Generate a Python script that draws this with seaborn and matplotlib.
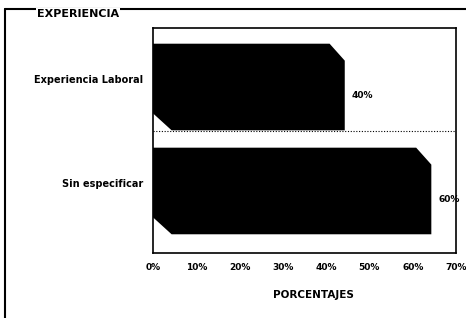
import seaborn as sns
import matplotlib.pyplot as plt
import pandas as pd
from matplotlib.patches import Polygon
from matplotlib.lines import Line2D

categorias = ["Experiencia Laboral", "Sin especificar"]
porcentajes = [40, 60]
etiquetas = ["40%", "60%"]
ticks_x = [0, 10, 20, 30, 40, 50, 60, 70]
ticks_x_lab = ["0%", "10%", "20%", "30%", "40%", "50%", "60%", "70%"]

# profundidad del efecto 3D (en unidades de datos)
prof_x = 4.3
prof_y = 0.163

sns.set_style("white")
plt.rcParams['font.family'] = ['DejaVu Sans']
plt.rcParams['text.color'] = 'black'
plt.rcParams['axes.labelcolor'] = 'black'

df = pd.DataFrame({'experiencia': categorias, 'pct': porcentajes})

fig = plt.figure(figsize=(4.66, 3.18), dpi=100)
ax = fig.add_axes([153 / 466, 1 - 253 / 318, 303 / 466, 225 / 318])

sns.barplot(data=df, x='pct', y='experiencia', orient='h', color='black',
            saturation=1, width=0.67, ax=ax)

# barras con profundidad
for patch, lab in zip(ax.patches, etiquetas):
    x0, y0 = patch.get_x(), patch.get_y()
    w, h = patch.get_width(), patch.get_height()
    pts = [(x0, y0), (x0 + w + 0.8, y0), (x0 + w + prof_x, y0 + prof_y),
           (x0 + w + prof_x, y0 + h + prof_y), (x0 + prof_x, y0 + h + prof_y),
           (x0, y0 + h)]
    ax.add_patch(Polygon(pts, closed=True, facecolor='black',
                         edgecolor='none', zorder=3))
    ax.text(x0 + w + prof_x + 1.6, y0 + prof_y + h / 2, lab, color='black',
            fontsize=6.5, fontweight='bold', va='center', ha='left')

ax.axhline(0.5, ls=(0, (1, 1.5)), color='black', lw=0.8, zorder=1)

ax.set_xlim(0, 70)
ax.set_ylim(1.678, -0.486)
ax.set_xticks(ticks_x)
ax.set_xticklabels(ticks_x_lab, fontsize=6.5, fontweight='bold')
for t in ax.get_yticklabels():
    t.set_fontsize(7)
    t.set_fontweight('bold')
ax.set_ylabel('')
ax.set_xlabel('PORCENTAJES', fontsize=7.5, fontweight='bold', color='black')
ax.xaxis.set_label_coords(0.53, -0.165)
ax.tick_params(axis='x', direction='inout', length=4, width=1, pad=5, colors='black')
ax.tick_params(axis='y', direction='out', length=4, width=1, pad=3, colors='black')
for s in ax.spines.values():
    s.set_visible(True)
    s.set_color('black')
    s.set_linewidth(1.2)

# marco exterior
fig.add_artist(Line2D([5 / 466, 1], [1 - 9 / 318] * 2, color='black', lw=1.5,
                      transform=fig.transFigure))
fig.add_artist(Line2D([5 / 466] * 2, [0, 1 - 9 / 318], color='black', lw=1.5,
                      transform=fig.transFigure))
fig.text(37 / 466, 1 - 14 / 318, 'EXPERIENCIA', fontsize=8, fontweight='bold',
         color='black', va='center', ha='left',
         bbox=dict(facecolor='white', edgecolor='none', pad=0.5))

fig.savefig('out.png', dpi=100)
